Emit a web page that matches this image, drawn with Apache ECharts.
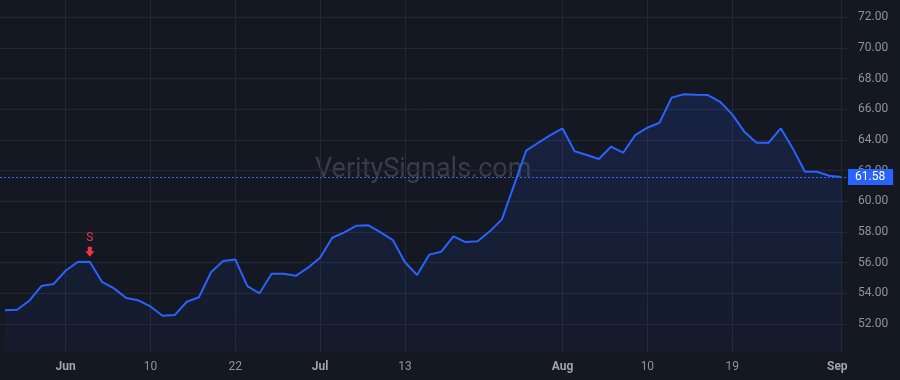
<!DOCTYPE html>
<html>
<head>
<meta charset="utf-8">
<script src="https://cdn.jsdelivr.net/npm/echarts@6/dist/echarts.min.js"></script>
<style>
  html, body { margin: 0; padding: 0; background: #141823; }
  #chart { width: 900px; height: 380px; }
</style>
</head>
<body>
<div id="chart"></div>
<script>
// Trading days (categories)
const dates = [
  '2022-05-24','2022-05-25','2022-05-26','2022-05-27','2022-05-31',
  '2022-06-01','2022-06-02','2022-06-03','2022-06-06','2022-06-07','2022-06-08','2022-06-09','2022-06-10',
  '2022-06-13','2022-06-14','2022-06-15','2022-06-16','2022-06-17','2022-06-21','2022-06-22','2022-06-23',
  '2022-06-24','2022-06-27','2022-06-28','2022-06-29','2022-06-30',
  '2022-07-01','2022-07-05','2022-07-06','2022-07-07','2022-07-08','2022-07-11','2022-07-12','2022-07-13',
  '2022-07-14','2022-07-15','2022-07-18','2022-07-19','2022-07-20','2022-07-21','2022-07-22','2022-07-25',
  '2022-07-26','2022-07-27','2022-07-28','2022-07-29',
  '2022-08-01','2022-08-02','2022-08-03','2022-08-04','2022-08-05','2022-08-08','2022-08-09','2022-08-10',
  '2022-08-11','2022-08-12','2022-08-15','2022-08-16','2022-08-17','2022-08-18','2022-08-19','2022-08-22',
  '2022-08-23','2022-08-24','2022-08-25','2022-08-26','2022-08-29','2022-08-30','2022-08-31',
  '2022-09-01'
];
// Closing prices
const prices = [
  52.89, 52.93, 53.51, 54.47, 54.60,
  55.47, 56.04, 56.06, 54.75, 54.32, 53.69, 53.54, 53.14,
  52.53, 52.58, 53.45, 53.74, 55.37, 56.10, 56.21, 54.47,
  54.00, 55.28, 55.28, 55.14, 55.67,
  56.32, 57.62, 57.97, 58.41, 58.43, 57.97, 57.47, 56.02,
  55.19, 56.52, 56.71, 57.71, 57.34, 57.39, 58.04, 58.82,
  61.06, 63.30, 63.82, 64.32,
  64.75, 63.26, 63.02, 62.76, 63.56, 63.17, 64.32, 64.80,
  65.12, 66.76, 66.98, 66.95, 66.93, 66.49, 65.67, 64.54,
  63.82, 63.82, 64.76, 63.45, 61.93, 61.93, 61.67,
  61.58
];
// X-axis tick labels
const tickDates  = ['2022-06-01','2022-06-10','2022-06-22','2022-07-01','2022-07-13','2022-08-01','2022-08-10','2022-08-19','2022-09-01'];
const tickLabels = ['Jun','10','22','Jul','13','Aug','10','19','Sep'];
const monthLabels = ['Jun','Jul','Aug','Sep'];
// Y-axis tick values
const yTicks = [52, 54, 56, 58, 60, 62, 64, 66, 68, 70, 72];
// Signals
const signalDates  = ['2022-06-03'];
const signalLabels = ['S'];
const lastPrice = prices[prices.length - 1];

const tickIdx = tickDates.map(d => dates.indexOf(d));
const seriesData = prices.map((v, i) => [i, v]);

const chart = echarts.init(document.getElementById('chart'), null, { renderer: 'canvas' });
const option = {
  backgroundColor: '#141823',
  animation: false,
  textStyle: { fontFamily: 'Roboto, "Noto Sans", sans-serif' },
  grid: { left: 0, right: 53, top: 0, bottom: 28, containLabel: false },
  graphic: [{
    type: 'text',
    left: 315,
    top: 157,
    z: 0,
    silent: true,
    style: {
      text: 'VeritySignals.com',
      fill: '#3a3d47',
      font: '27px Roboto, "Noto Sans", sans-serif'
    }
  }],
  xAxis: {
    type: 'value',
    min: -0.41,
    max: 69.47,
    axisLine: { show: false },
    axisTick: { show: false, customValues: tickIdx },
    splitLine: { show: true, lineStyle: { color: '#242833', width: 1 } },
    axisLabel: {
      customValues: tickIdx,
      margin: 9,
      formatter: function (v) {
        const k = tickIdx.indexOf(Math.round(v));
        if (k < 0) return '';
        const t = tickLabels[k];
        if (k === tickLabels.length - 1) return '{e|' + t + '}';
        return monthLabels.indexOf(t) >= 0 ? '{m|' + t + '}' : '{d|' + t + '}';
      },
      rich: {
        m: { color: '#a0a3ac', fontSize: 12, fontWeight: 'bold', fontFamily: 'Roboto, sans-serif' },
        e: { color: '#a0a3ac', fontSize: 12, fontWeight: 'bold', fontFamily: 'Roboto, sans-serif', padding: [0, 8, 0, 0] },
        d: { color: '#8f929b', fontSize: 12, fontFamily: 'Roboto, sans-serif' }
      }
    }
  },
  yAxis: {
    type: 'value',
    position: 'right',
    min: 50.17,
    max: 73.13,
    axisLine: { show: false },
    axisTick: { show: false, customValues: yTicks },
    splitLine: { show: true, lineStyle: { color: '#242833', width: 1 } },
    axisLabel: {
      customValues: yTicks,
      margin: 11,
      color: '#8f929b',
      fontSize: 12,
      formatter: v => v.toFixed(2)
    }
  },
  series: [{
    type: 'line',
    data: seriesData,
    showSymbol: false,
    symbol: 'none',
    z: 3,
    lineStyle: { color: '#2962ff', width: 2 },
    areaStyle: {
      color: new echarts.graphic.LinearGradient(0, 0, 0, 1, [
        { offset: 0, color: 'rgba(41,98,255,0.21)' },
        { offset: 1, color: 'rgba(41,98,255,0.05)' }
      ])
    },
    markLine: {
      silent: true,
      symbol: ['none', 'none'],
      animation: false,
      lineStyle: { color: '#2f66ff', type: [2, 2], width: 1 },
      label: {
        show: true,
        position: 'end',
        distance: 1,
        formatter: () => lastPrice.toFixed(2),
        color: '#ffffff',
        fontSize: 12,
        backgroundColor: '#2962ff',
        padding: [2, 8, 2, 7]
      },
      data: [{ yAxis: lastPrice }]
    },
    markPoint: {
      silent: true,
      animation: false,
      data: signalDates.map((d, k) => {
        const i = dates.indexOf(d);
        return {
          coord: [i, prices[i]],
          symbol: 'path://M2.5,0 L6.5,0 L6.5,4.5 L9,4.5 L4.5,10 L0,4.5 L2.5,4.5 Z',
          symbolSize: [9, 10],
          symbolKeepAspect: false,
          symbolOffset: [0, -10],
          itemStyle: { color: '#f23645' },
          label: {
            show: true,
            position: 'top',
            distance: 3,
            formatter: signalLabels[k],
            color: '#f23645',
            fontSize: 12
          }
        };
      })
    }
  }]
};
chart.setOption(option);
</script>
</body>
</html>
